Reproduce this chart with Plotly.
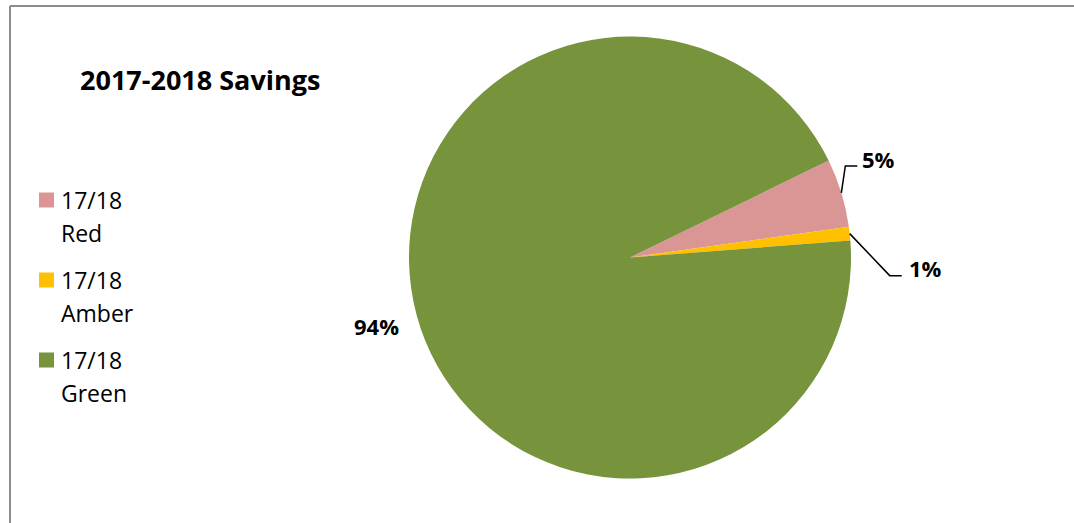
import math
import plotly.graph_objects as go

# Savings breakdown for 2017/18 by RAG status
categories = ["17/18 Red", "17/18 Amber", "17/18 Green"]
values = [5, 1, 94]
colors = ["#D99694", "#FFC000", "#77933C"]

W, H = 1074, 523
CX, CY, R = 630, 257.5, 221
ROTATION = 64  # start angle of first slice, clockwise from 12 o'clock
FONT = "Open Sans"

def px(x):
    return x / W

def py(y):
    return 1 - y / H

fig = go.Figure(go.Pie(
    labels=categories,
    values=values,
    marker=dict(colors=colors, line=dict(width=0)),
    sort=False,
    direction="clockwise",
    rotation=ROTATION,
    textinfo="none",
    hoverinfo="label+percent",
    showlegend=False,
    domain=dict(x=[px(CX - R), px(CX + R)], y=[py(CY + R), py(CY - R)]),
))

# slice mid-angles (clockwise from top) for label placement
total = sum(values)
mids = []
start = ROTATION
for v in values:
    span = 360 * v / total
    mids.append(start + span / 2)
    start += span

def edge(angle_deg, r):
    a = math.radians(angle_deg)
    return CX + r * math.sin(a), CY - r * math.cos(a)

shapes = []
annotations = []
label_font = dict(family=FONT, size=22, color="#000000")

def pct(v):
    return f"{round(100 * v / total)}%"

# leader-line labels for the two small slices
leader_offsets = [((4, -27), 12, 3, -7), ((40, 42), 12, 5, -8)]
for i, (elb, run, gap, dy) in enumerate(leader_offsets):
    x0, y0 = edge(mids[i], R)
    x1, y1 = x0 + elb[0], y0 + elb[1]
    x2 = x1 + run
    shapes.append(dict(
        type="path", xref="paper", yref="paper",
        path=f"M {px(x0)},{py(y0)} L {px(x1)},{py(y1)} L {px(x2)},{py(y1)}",
        line=dict(color="#000000", width=1.5),
    ))
    annotations.append(dict(
        x=px(x2 + gap), y=py(y1 + dy), xref="paper", yref="paper",
        text=f"<b>{pct(values[i])}</b>", showarrow=False,
        xanchor="left", yanchor="middle", font=label_font,
    ))

# label for the large slice, placed outside along its mid-angle
lx, ly = edge(mids[2], R + 42)
annotations.append(dict(
    x=px(lx), y=py(ly), xref="paper", yref="paper",
    text=f"<b>{pct(values[2])}</b>", showarrow=False,
    xanchor="center", yanchor="middle", font=label_font,
))

# title
annotations.append(dict(
    x=px(78), y=py(79), xref="paper", yref="paper",
    text="<b>2017-2018 Savings</b>", showarrow=False,
    xanchor="left", yanchor="middle",
    font=dict(family=FONT, size=27, color="#000000"),
))

# legend: colour swatch plus two-line label per category
legend_top = 200
legend_step = 80
line_gap = 32.5
for i, (name, col) in enumerate(zip(categories, colors)):
    yc = legend_top + i * legend_step
    shapes.append(dict(
        type="rect", xref="paper", yref="paper",
        x0=px(39), x1=px(54), y0=py(yc - 7.5), y1=py(yc + 7.5),
        fillcolor=col, line=dict(width=0),
    ))
    first, second = name.split(" ", 1)
    for j, txt in enumerate([first, second]):
        annotations.append(dict(
            x=px(59), y=py(yc + j * line_gap), xref="paper", yref="paper",
            text=txt, showarrow=False, xanchor="left", yanchor="middle",
            font=dict(family=FONT, size=23, color="#000000"),
        ))

# chart frame (top and left edges visible)
frame = dict(color="#8C8C8C", width=2)
shapes.append(dict(type="line", xref="paper", yref="paper",
                   x0=px(10), x1=1.01, y0=py(6), y1=py(6), line=frame))
shapes.append(dict(type="line", xref="paper", yref="paper",
                   x0=px(10), x1=px(10), y0=py(6), y1=-0.01, line=frame))

fig.update_layout(
    width=W, height=H,
    margin=dict(l=0, r=0, t=0, b=0),
    paper_bgcolor="#FFFFFF",
    plot_bgcolor="#FFFFFF",
    shapes=shapes,
    annotations=annotations,
)

fig.write_html("out.html")
